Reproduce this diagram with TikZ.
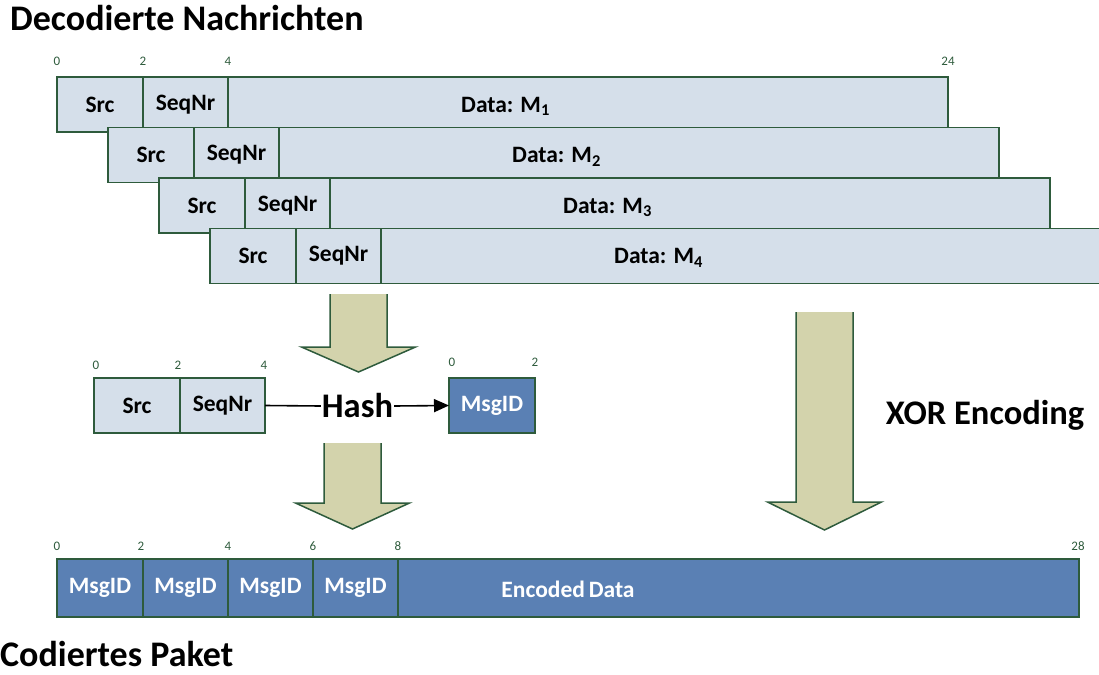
\documentclass[tikz,border=0pt]{standalone}
\usepackage{fontspec}
\setmainfont{Carlito}
\usetikzlibrary{arrows.meta,calc}

\definecolor{cellfill}{HTML}{D5DFEA}
\definecolor{cellline}{HTML}{2E5B3C}
\definecolor{idfill}{HTML}{5A80B4}
\definecolor{arrowtan}{HTML}{D3D3AC}

\tikzset{
  cell/.style={draw=cellline, line width=1.6pt, fill=cellfill, anchor=north west,
    inner sep=0pt, outer sep=0pt, minimum height=55pt,
    font=\fontsize{23.5}{26}\selectfont\bfseries},
  idcell/.style={cell, fill=idfill, text=white},
  celltext/.style={inner sep=0pt, font=\fontsize{23.5}{26}\selectfont\bfseries},
  tick/.style={inner sep=0pt, text=cellline, font=\fontsize{13}{15}\selectfont},
  heading/.style={inner sep=0pt, anchor=base west, font=\fontsize{36}{42}\selectfont\bfseries},
  bigtext/.style={inner sep=1pt, font=\fontsize{34.5}{40}\selectfont\bfseries},
  link/.style={line width=1.6pt, black},
}

% broad block arrow pointing down: centre x, top, shoulder, tip
\newcommand\fatarrow[4]{%
  \fill[arrowtan] (#1-28.5,#2) -- (#1-28.5,#3) -- (#1-57,#3) -- (#1,#4)
    -- (#1+57,#3) -- (#1+28.5,#3) -- (#1+28.5,#2) -- cycle;
  \draw[cellline, line width=1.5pt, line join=miter]
    (#1-28.5,#2) -- (#1-28.5,#3) -- (#1-57,#3) -- (#1,#4)
    -- (#1+57,#3) -- (#1+28.5,#3) -- (#1+28.5,#2);
}

\begin{document}
\begin{tikzpicture}[x=1pt,y=-1pt]
\useasboundingbox (0,0) rectangle (1099,674);

% headings
\node[heading] (dechead) at (10,31) {Decodierte Nachrichten};
\node[heading] (codhead) at (0,666) {Codiertes Paket};

% byte offsets of the decoded messages
\node[tick] at (57,61) {0};
\node[tick] at (143,61) {2};
\node[tick] at (228,61) {4};
\node[tick] at (948,61) {24};

% four decoded messages, stacked
\foreach \k/\m in {0/1,1/2,2/3,3/4} {
  \pgfmathsetmacro\xo{57+51*\k}
  \pgfmathsetmacro\yo{77+50.5*\k}
  \node[cell, minimum width=86pt] (src\k) at (\xo,\yo) {Src};
  \node[cell, minimum width=85pt] (seq\k) at (src\k.north east) {SeqNr};
  \node[cell, minimum width=720pt] (data\k) at (seq\k.north east) {};
  \node[celltext, anchor=west] (lbl\k) at ($(data\k.west)+(233,2)$) {Data: M\textsubscript{\m}};
}

% hashing of Src and SeqNr
\fatarrow{358.5}{294}{347}{372}
\node[tick] at (96,365) {0};
\node[tick] at (178,365) {2};
\node[tick] at (264,365) {4};
\node[cell, minimum width=86pt] (msrc) at (94,378) {Src};
\node[cell, minimum width=85pt] (mseq) at (msrc.north east) {SeqNr};
\node[tick] at (452,362) {0};
\node[tick] at (535,362) {2};
\node[idcell, minimum width=86pt] (mid) at (449,378) {MsgID};
\node[bigtext] (hash) at (357.5,406) {Hash};
\draw[link] (mseq.east) -- (hash.west);
\draw[link, -{Triangle[length=15pt,width=13pt]}] (hash.east) -- (mid.west);

\fatarrow{352.5}{443}{503}{529}
\fatarrow{824.5}{312}{502}{530}
\node[bigtext] (xor) at (985,415) {XOR Encoding};

% encoded packet
\node[tick] at (57,546) {0};
\node[tick] at (141,546) {2};
\node[tick] at (228,546) {4};
\node[tick] at (313,546) {6};
\node[tick] at (398,546) {8};
\node[tick] at (1078,546) {28};
\node[idcell, minimum width=86pt, minimum height=58pt] (id1) at (57,559) {MsgID};
\node[idcell, minimum width=85pt, minimum height=58pt] (id2) at (id1.north east) {MsgID};
\node[idcell, minimum width=85pt, minimum height=58pt] (id3) at (id2.north east) {MsgID};
\node[idcell, minimum width=85pt, minimum height=58pt] (id4) at (id3.north east) {MsgID};
\node[idcell, minimum width=681pt, minimum height=58pt] (enc) at (id4.north east) {};
\node[celltext, text=white] (enclbl) at (568,589) {Encoded\,Data};
\end{tikzpicture}
\end{document}
